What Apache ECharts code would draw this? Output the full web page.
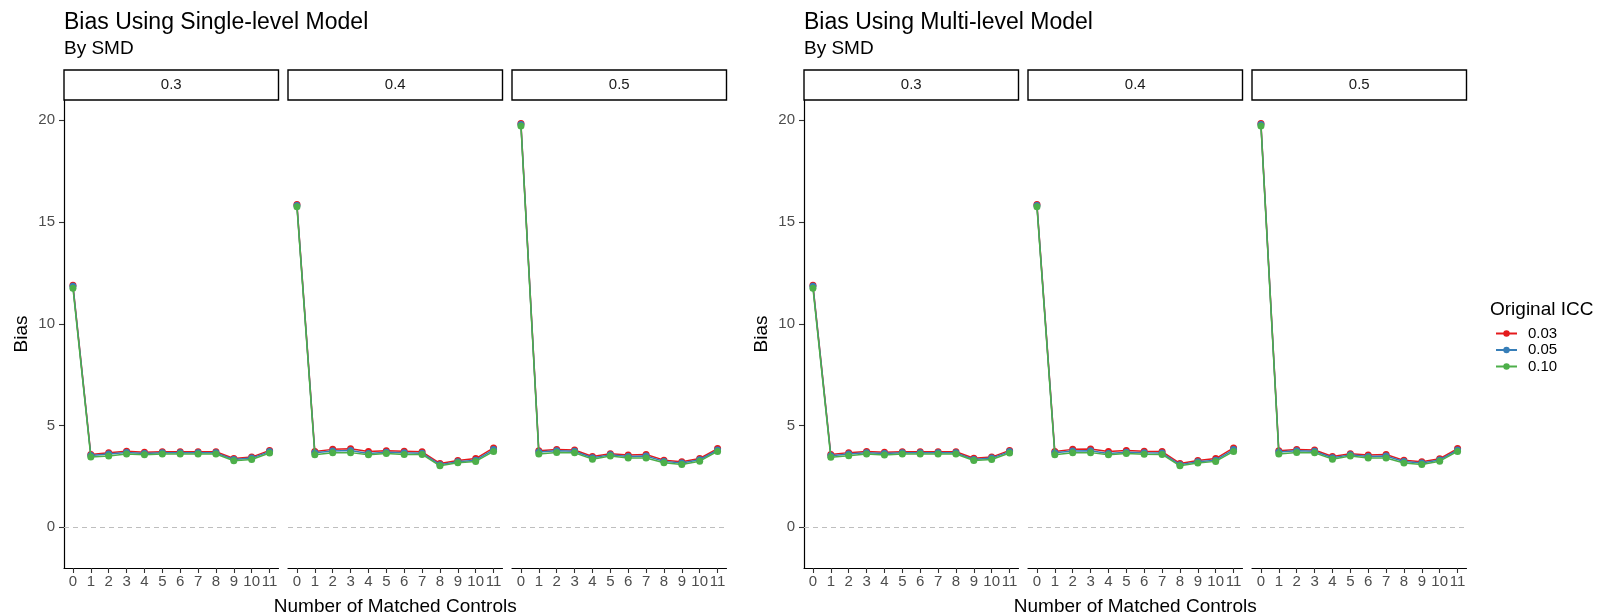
<!DOCTYPE html>
<html>
<head>
<meta charset="utf-8">
<title>Bias by SMD and number of matched controls</title>
<script src="https://cdn.jsdelivr.net/npm/echarts@6/dist/echarts.min.js"></script>
<style>
  html, body { margin: 0; padding: 0; background: #ffffff; }
  #chart { width: 1610px; height: 616px; }
</style>
</head>
<body>
<div id="chart"></div>
<script>
// ---- data -------------------------------------------------------------
const matchedControls = ['0', '1', '2', '3', '4', '5', '6', '7', '8', '9', '10', '11'];
const smdLevels = ['0.3', '0.4', '0.5'];
const iccLevels = ['0.03', '0.05', '0.10'];
const yTicks = [0, 5, 10, 15, 20];

// Single-level model, bias by number of matched controls
const singleSmd03Icc003 = [11.90, 3.58, 3.66, 3.74, 3.69, 3.71, 3.71, 3.71, 3.71, 3.38, 3.45, 3.78];
const singleSmd03Icc005 = [11.85, 3.53, 3.60, 3.68, 3.63, 3.66, 3.66, 3.66, 3.66, 3.33, 3.40, 3.72];
const singleSmd03Icc010 = [11.75, 3.46, 3.51, 3.60, 3.56, 3.60, 3.60, 3.60, 3.60, 3.27, 3.33, 3.65];

const singleSmd04Icc003 = [15.87, 3.72, 3.83, 3.86, 3.72, 3.76, 3.74, 3.71, 3.14, 3.28, 3.38, 3.90];
const singleSmd04Icc005 = [15.82, 3.66, 3.75, 3.77, 3.63, 3.69, 3.66, 3.64, 3.08, 3.22, 3.30, 3.82];
const singleSmd04Icc010 = [15.75, 3.57, 3.66, 3.67, 3.56, 3.63, 3.58, 3.58, 3.02, 3.17, 3.24, 3.73];

const singleSmd05Icc003 = [19.85, 3.76, 3.82, 3.80, 3.48, 3.62, 3.55, 3.58, 3.30, 3.22, 3.38, 3.87];
const singleSmd05Icc005 = [19.80, 3.70, 3.76, 3.74, 3.42, 3.56, 3.48, 3.50, 3.24, 3.16, 3.32, 3.80];
const singleSmd05Icc010 = [19.72, 3.60, 3.68, 3.66, 3.35, 3.50, 3.41, 3.41, 3.17, 3.09, 3.25, 3.73];

// Multi-level model, bias by number of matched controls
const multiSmd03Icc003 = [11.90, 3.58, 3.67, 3.73, 3.69, 3.71, 3.71, 3.71, 3.71, 3.39, 3.45, 3.78];
const multiSmd03Icc005 = [11.85, 3.52, 3.60, 3.67, 3.63, 3.66, 3.66, 3.66, 3.66, 3.33, 3.40, 3.72];
const multiSmd03Icc010 = [11.75, 3.44, 3.52, 3.60, 3.55, 3.60, 3.60, 3.60, 3.60, 3.28, 3.33, 3.65];

const multiSmd04Icc003 = [15.87, 3.72, 3.83, 3.85, 3.72, 3.77, 3.74, 3.72, 3.14, 3.28, 3.38, 3.90];
const multiSmd04Icc005 = [15.82, 3.66, 3.75, 3.76, 3.63, 3.69, 3.66, 3.65, 3.08, 3.22, 3.30, 3.82];
const multiSmd04Icc010 = [15.75, 3.57, 3.66, 3.67, 3.56, 3.63, 3.59, 3.58, 3.02, 3.16, 3.24, 3.73];

const multiSmd05Icc003 = [19.85, 3.76, 3.82, 3.80, 3.48, 3.62, 3.55, 3.58, 3.29, 3.22, 3.37, 3.87];
const multiSmd05Icc005 = [19.80, 3.70, 3.76, 3.74, 3.42, 3.56, 3.48, 3.50, 3.23, 3.16, 3.31, 3.80];
const multiSmd05Icc010 = [19.72, 3.60, 3.68, 3.66, 3.35, 3.50, 3.41, 3.41, 3.16, 3.09, 3.25, 3.73];

// ---- grouping ---------------------------------------------------------
const charts = [
  {
    title: 'Bias Using Single-level Model',
    subtitle: 'By SMD',
    panels: [
      [singleSmd03Icc003, singleSmd03Icc005, singleSmd03Icc010],
      [singleSmd04Icc003, singleSmd04Icc005, singleSmd04Icc010],
      [singleSmd05Icc003, singleSmd05Icc005, singleSmd05Icc010]
    ]
  },
  {
    title: 'Bias Using Multi-level Model',
    subtitle: 'By SMD',
    panels: [
      [multiSmd03Icc003, multiSmd03Icc005, multiSmd03Icc010],
      [multiSmd04Icc003, multiSmd04Icc005, multiSmd04Icc010],
      [multiSmd05Icc003, multiSmd05Icc005, multiSmd05Icc010]
    ]
  }
];

// ---- layout & style ---------------------------------------------------
const FONT = "'Liberation Sans', Arial, Helvetica, sans-serif";
const COLORS = ['#E41A1C', '#377EB8', '#4DAF4A'];
const CHART_LEFT = [64, 804];
const PANEL_W = 214.5;
const PANEL_GAP = 9.5;
const PANEL_TOP = 100;
const PANEL_H = 468;
const STRIP_H = 30;
const Y_MIN = -2;
const Y_MAX = 21;

const grid = [], xAxis = [], yAxis = [], series = [], graphic = [], title = [];

charts.forEach((chart, c) => {
  title.push({
    text: chart.title, left: CHART_LEFT[c], top: 11, padding: 0,
    textStyle: { fontFamily: FONT, fontSize: 23, fontWeight: 'normal', color: '#000' }
  });
  title.push({
    text: chart.subtitle, left: CHART_LEFT[c], top: 39, padding: 0,
    textStyle: { fontFamily: FONT, fontSize: 19, fontWeight: 'normal', color: '#000' }
  });

  chart.panels.forEach((panel, p) => {
    const idx = c * 3 + p;
    const left = CHART_LEFT[c] + p * (PANEL_W + PANEL_GAP);
    grid.push({
      left: left, top: PANEL_TOP, width: PANEL_W, height: PANEL_H,
      containLabel: false, outerBoundsMode: 'none'
    });

    xAxis.push({
      type: 'category', gridIndex: idx, data: matchedControls, boundaryGap: true,
      axisLine: { show: true, onZero: false, lineStyle: { color: '#000', width: 1.2 } },
      axisTick: { show: true, alignWithLabel: true, length: 5, lineStyle: { color: '#333', width: 1.1 } },
      axisLabel: { interval: 0, color: '#4D4D4D', fontSize: 15, fontFamily: FONT, margin: 6 },
      splitLine: { show: false },
      name: p === 1 ? 'Number of Matched Controls' : '',
      nameLocation: 'middle', nameGap: 29,
      nameTextStyle: { fontFamily: FONT, fontSize: 19, color: '#000' }
    });

    const firstPanel = p === 0;
    yAxis.push({
      type: 'value', gridIndex: idx, min: Y_MIN, max: Y_MAX, show: firstPanel,
      axisLine: { show: true, onZero: false, lineStyle: { color: '#000', width: 1.2 } },
      axisTick: { show: true, length: 5, customValues: yTicks, lineStyle: { color: '#333', width: 1.1 } },
      axisLabel: { color: '#4D4D4D', fontSize: 15, fontFamily: FONT, margin: 9, customValues: yTicks },
      splitLine: { show: false },
      name: firstPanel ? 'Bias' : '',
      nameLocation: 'middle', nameGap: 33,
      nameTextStyle: { fontFamily: FONT, fontSize: 19, color: '#000' }
    });

    // facet strip
    graphic.push({
      type: 'rect', silent: true,
      shape: { x: left, y: PANEL_TOP - STRIP_H, width: PANEL_W, height: STRIP_H },
      style: { fill: '#fff', stroke: '#000', lineWidth: 1.4 }
    });
    graphic.push({
      type: 'text', silent: true,
      style: {
        text: smdLevels[p], x: left + PANEL_W / 2, y: PANEL_TOP - STRIP_H / 2,
        textAlign: 'center', textVerticalAlign: 'middle', align: 'center', verticalAlign: 'middle',
        fontSize: 15, fontFamily: FONT, fill: '#1A1A1A'
      }
    });

    panel.forEach((values, k) => {
      const s = {
        type: 'line', name: iccLevels[k], xAxisIndex: idx, yAxisIndex: idx,
        data: values, symbol: 'circle', symbolSize: 7, showSymbol: true,
        color: COLORS[k],
        lineStyle: { width: 1.5, color: COLORS[k] },
        itemStyle: { color: COLORS[k] },
        z: 3 + k, silent: true
      };
      if (k === 0) {
        s.markLine = {
          silent: true, symbol: ['none', 'none'], label: { show: false },
          lineStyle: { color: '#BEBEBE', type: [5, 4], width: 1 },
          data: [{ yAxis: 0 }], z: 1
        };
      }
      series.push(s);
    });
  });
});

// legend heading
graphic.push({
  type: 'text', silent: true,
  style: {
    text: 'Original ICC', x: 1490, y: 310,
    textAlign: 'left', textVerticalAlign: 'middle', align: 'left', verticalAlign: 'middle',
    fontSize: 19, fontFamily: FONT, fill: '#000'
  }
});

const option = {
  animation: false,
  backgroundColor: '#ffffff',
  textStyle: { fontFamily: FONT },
  title: title,
  grid: grid,
  xAxis: xAxis,
  yAxis: yAxis,
  legend: {
    data: iccLevels, orient: 'vertical', left: 1495, top: 326, padding: 0,
    itemWidth: 21, itemHeight: 8, itemGap: 1.5,
    textStyle: { fontFamily: FONT, fontSize: 15, color: '#000', padding: [0, 0, 0, 6] },
    selectedMode: false
  },
  graphic: graphic,
  series: series
};

const chartEl = echarts.init(document.getElementById('chart'), null, { renderer: 'canvas' });
chartEl.setOption(option);
</script>
</body>
</html>
